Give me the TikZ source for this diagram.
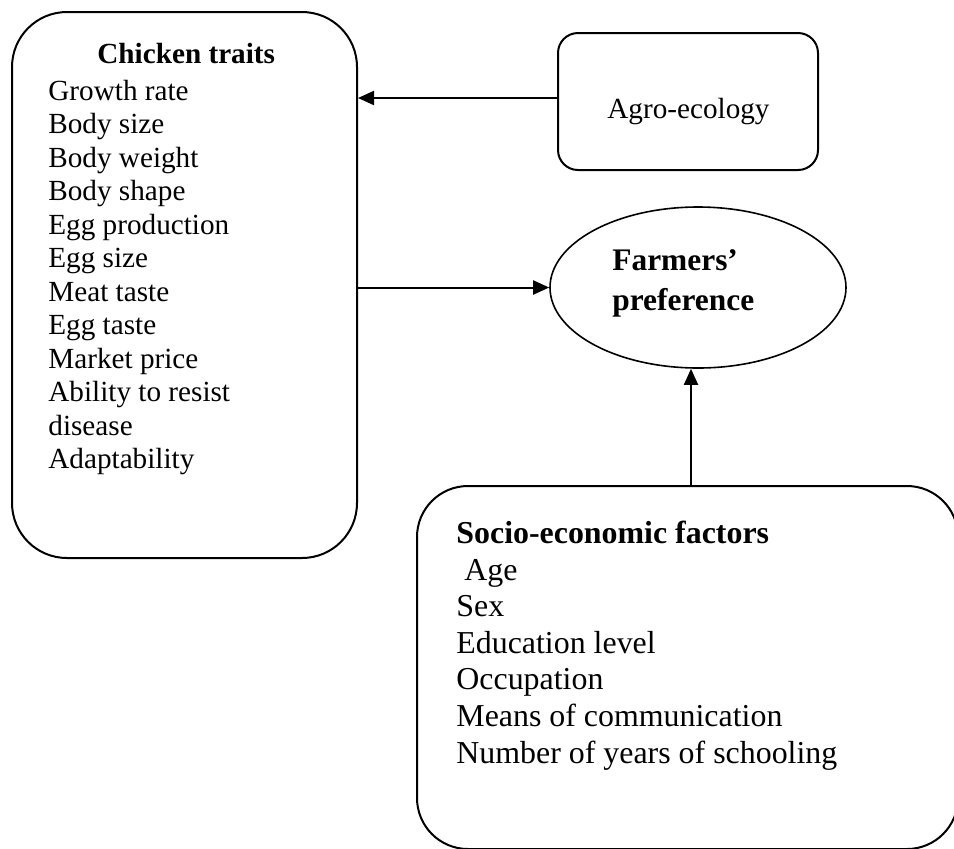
\documentclass[tikz,border=0pt]{standalone}
\usepackage{fontspec}
\setmainfont{Liberation Serif}
\usetikzlibrary{arrows.meta,positioning,shapes.geometric}
\tikzset{roundbox/.style={draw=black,line width=1pt,inner sep=0pt}}
\tikzset{item/.style={anchor=base west,inner sep=0pt,font=\fontsize{14.6pt}{16.75pt}\selectfont}}
\tikzset{head/.style={item,font=\fontsize{14.6pt}{16.75pt}\selectfont\bfseries}}
\tikzset{sitem/.style={item,font=\fontsize{15.95pt}{18.35pt}\selectfont}}
\tikzset{arr/.style={-{Triangle[length=8pt,width=7pt]},line width=1pt}}

\begin{document}
\begin{tikzpicture}[x=0.5pt,y=-0.5pt]
\clip (0,0) rectangle (954,848);
% boxes
\node (chick) [roundbox,rounded corners=27.5pt,minimum width=172.5pt,minimum height=273pt] at (184.5,285) {};
\node (agro) [roundbox,rounded corners=10pt,minimum width=130pt,minimum height=68.5pt] at (688,101.5) {};
\node (pref) [ellipse,draw=black,line width=0.8pt,inner sep=0pt,minimum width=148pt,minimum height=80.5pt] at (698,287.5) {};
\node (socio) [roundbox,rounded corners=25.5pt,minimum width=270.5pt,minimum height=181.5pt] at (687.5,667.5) {};
%
\node (ctitle) [head] at (97,63) {Chicken traits};
\foreach \t [count=\i] in {Growth rate,Body size,Body weight,Body shape,Egg production,Egg size,Meat taste,Egg taste,Market price,Ability to resist,disease,Adaptability}
  \node (c\i) [item] at (48,{100+33.5*(\i-1)}) {\t};
\node (atext) [item] at (607,118) {Agro-ecology};
\node (ptext1) [head,font=\fontsize{15.7pt}{18pt}\selectfont\bfseries] at (612,270) {Farmers’};
\node (ptext2) [head,font=\fontsize{15.7pt}{18pt}\selectfont\bfseries] at (612,310) {preference};
\node (stitle) [head,font=\fontsize{15.95pt}{18.35pt}\selectfont\bfseries] at (456,543) {Socio-economic factors};
\foreach \t [count=\i] in {{\hspace*{4pt}Age},Sex,Education level,Occupation,Means of communication,Number of years of schooling}
  \node (s\i) [sitem] at (456,{580+36.65*(\i-1)}) {\t};
% arrows
\coordinate (ain) at ([yshift=1.75pt]agro.west);
\coordinate (pin) at (pref.west);
\coordinate (pout) at ([xshift=-3.5pt]pref.south);
\draw[arr] (ain) -- (ain -| chick.east);
\draw[arr] (pin -| chick.east) -- (pin);
\draw[arr] (socio.north -| pout) -- (pout);
\end{tikzpicture}
\end{document}
